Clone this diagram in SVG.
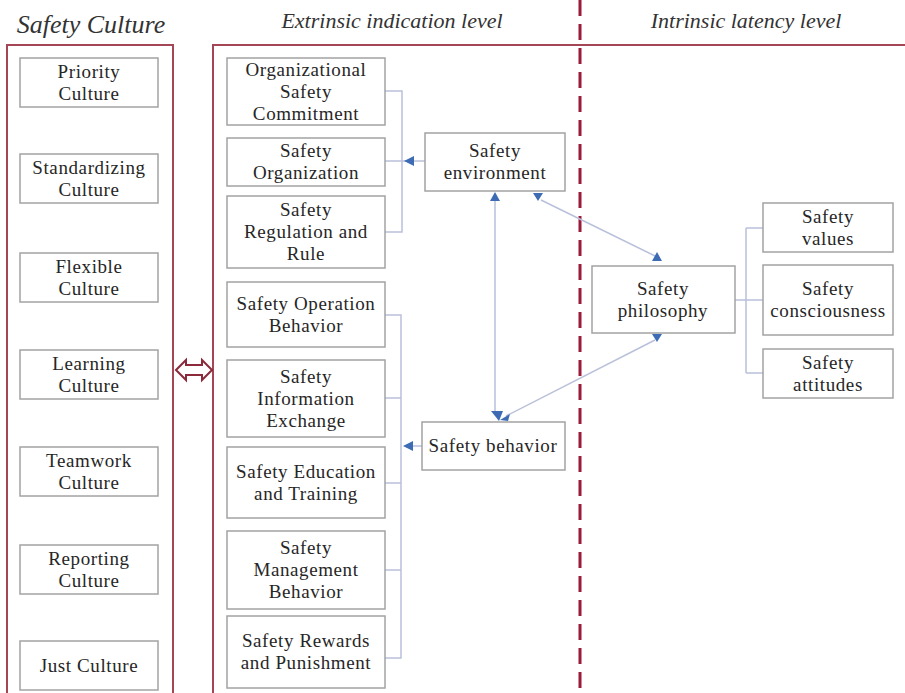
<svg xmlns="http://www.w3.org/2000/svg" width="905" height="693" viewBox="0 0 905 693">
<style>
.bx{fill:#fff;stroke:#a3a3a3;stroke-width:1.5}
.t{font-family:"Liberation Serif","Times New Roman",serif;font-size:19px;letter-spacing:0.6px;fill:#262626;text-anchor:middle}
.h{font-family:"Liberation Serif","Times New Roman",serif;font-style:italic;fill:#333;text-anchor:middle}
.c{fill:none;stroke:#b9c0da;stroke-width:1.5}
.ah{fill:#3d6cb5}
.pn{fill:none;stroke:#a44656;stroke-width:2}
</style>
<rect width="905" height="693" fill="#fff"/>
<g id="headers">
<text class="h" x="91" y="33" font-size="26">Safety Culture</text>
<text class="h" x="392" y="28" font-size="22">Extrinsic indication level</text>
<text class="h" x="746" y="28" font-size="22">Intrinsic latency level</text>
</g>
<g id="panels">
<path class="pn" d="M7,693 V45 H173 V693"/>
<path class="pn" d="M213,693 V45 H905"/>
<line x1="580" y1="0" x2="580" y2="693" stroke="#9b1b3a" stroke-width="3" stroke-dasharray="16 8"/>
<polygon points="176,370 186,360 186,365 202,365 202,360 212,370 202,380 202,375 186,375 186,380" fill="#fff" stroke="#8b2a3a" stroke-width="2"/>
</g>
<g id="connectors">
<path class="c" d="M385,91 H402 V232 H385 M385,161 H414 M414,161 H425"/>
<path class="c" d="M385,315 H401 V658 H385 M385,398 H401 M385,483 H401 M385,570 H401 M413,446 H422"/>
<path class="c" d="M735,300 H746 M746,228 V373 M746,228 H763 M746,300 H763 M746,373 H763"/>
<line class="c" x1="495" y1="199" x2="495" y2="414" stroke-width="1.2"/>
<line class="c" x1="541" y1="200" x2="655" y2="256"/>
<line class="c" x1="506" y1="416" x2="655" y2="340"/>
<polygon class="ah" points="404,161 414,156 414,166"/>
<polygon class="ah" points="403,446 413,441 413,451"/>
<polygon class="ah" points="495,192 490,201 500,201"/>
<polygon class="ah" points="491,411 503,411 499,421"/>
<polygon class="ah" points="533,193 543,193 538,201"/>
<polygon class="ah" points="657,252 652,261 662,261"/>
<polygon class="ah" points="652,334 662,334 657,342"/>
<polygon class="ah" points="500,420 510,414 508,421"/>
</g>
<g id="n-priority"><rect class="bx" x="20" y="58" width="138" height="49"/><text class="t" x="89" y="78">Priority</text><text class="t" x="89" y="100">Culture</text></g>
<g id="n-standardizing"><rect class="bx" x="20" y="154" width="138" height="49"/><text class="t" x="89" y="174">Standardizing</text><text class="t" x="89" y="196">Culture</text></g>
<g id="n-flexible"><rect class="bx" x="20" y="253" width="138" height="49"/><text class="t" x="89" y="273">Flexible</text><text class="t" x="89" y="295">Culture</text></g>
<g id="n-learning"><rect class="bx" x="20" y="350" width="138" height="49"/><text class="t" x="89" y="370">Learning</text><text class="t" x="89" y="392">Culture</text></g>
<g id="n-teamwork"><rect class="bx" x="20" y="447" width="138" height="49"/><text class="t" x="89" y="467">Teamwork</text><text class="t" x="89" y="489">Culture</text></g>
<g id="n-reporting"><rect class="bx" x="20" y="545" width="138" height="49"/><text class="t" x="89" y="565">Reporting</text><text class="t" x="89" y="587">Culture</text></g>
<g id="n-just"><rect class="bx" x="20" y="641" width="138" height="49"/><text class="t" x="89" y="672">Just Culture</text></g>
<g id="n-commitment"><rect class="bx" x="227" y="58" width="158" height="67"/><text class="t" x="306" y="76">Organizational</text><text class="t" x="306" y="98">Safety</text><text class="t" x="306" y="120">Commitment</text></g>
<g id="n-organization"><rect class="bx" x="227" y="138" width="158" height="48"/><text class="t" x="306" y="157">Safety</text><text class="t" x="306" y="179">Organization</text></g>
<g id="n-regulation"><rect class="bx" x="227" y="196" width="158" height="72"/><text class="t" x="306" y="216">Safety</text><text class="t" x="306" y="238">Regulation and</text><text class="t" x="306" y="260">Rule</text></g>
<g id="n-operation"><rect class="bx" x="227" y="282" width="158" height="65"/><text class="t" x="306" y="310">Safety Operation</text><text class="t" x="306" y="332">Behavior</text></g>
<g id="n-information"><rect class="bx" x="227" y="360" width="158" height="77"/><text class="t" x="306" y="383">Safety</text><text class="t" x="306" y="405">Information</text><text class="t" x="306" y="427">Exchange</text></g>
<g id="n-education"><rect class="bx" x="227" y="447" width="158" height="71"/><text class="t" x="306" y="478">Safety Education</text><text class="t" x="306" y="500">and Training</text></g>
<g id="n-management"><rect class="bx" x="227" y="531" width="158" height="78"/><text class="t" x="306" y="554">Safety</text><text class="t" x="306" y="576">Management</text><text class="t" x="306" y="598">Behavior</text></g>
<g id="n-rewards"><rect class="bx" x="227" y="616" width="158" height="72"/><text class="t" x="306" y="647">Safety Rewards</text><text class="t" x="306" y="669">and Punishment</text></g>
<g id="n-environment"><rect class="bx" x="425" y="133" width="140" height="58"/><text class="t" x="495" y="157">Safety</text><text class="t" x="495" y="179">environment</text></g>
<g id="n-behavior"><rect class="bx" x="422" y="422" width="143" height="48"/><text class="t" x="493" y="452">Safety behavior</text></g>
<g id="n-philosophy"><rect class="bx" x="592" y="266" width="143" height="67"/><text class="t" x="663" y="295">Safety</text><text class="t" x="663" y="317">philosophy</text></g>
<g id="n-values"><rect class="bx" x="763" y="203" width="130" height="49"/><text class="t" x="828" y="223">Safety</text><text class="t" x="828" y="245">values</text></g>
<g id="n-consciousness"><rect class="bx" x="763" y="265" width="130" height="70"/><text class="t" x="828" y="295">Safety</text><text class="t" x="828" y="317">consciousness</text></g>
<g id="n-attitudes"><rect class="bx" x="763" y="349" width="130" height="49"/><text class="t" x="828" y="369">Safety</text><text class="t" x="828" y="391">attitudes</text></g>
</svg>
